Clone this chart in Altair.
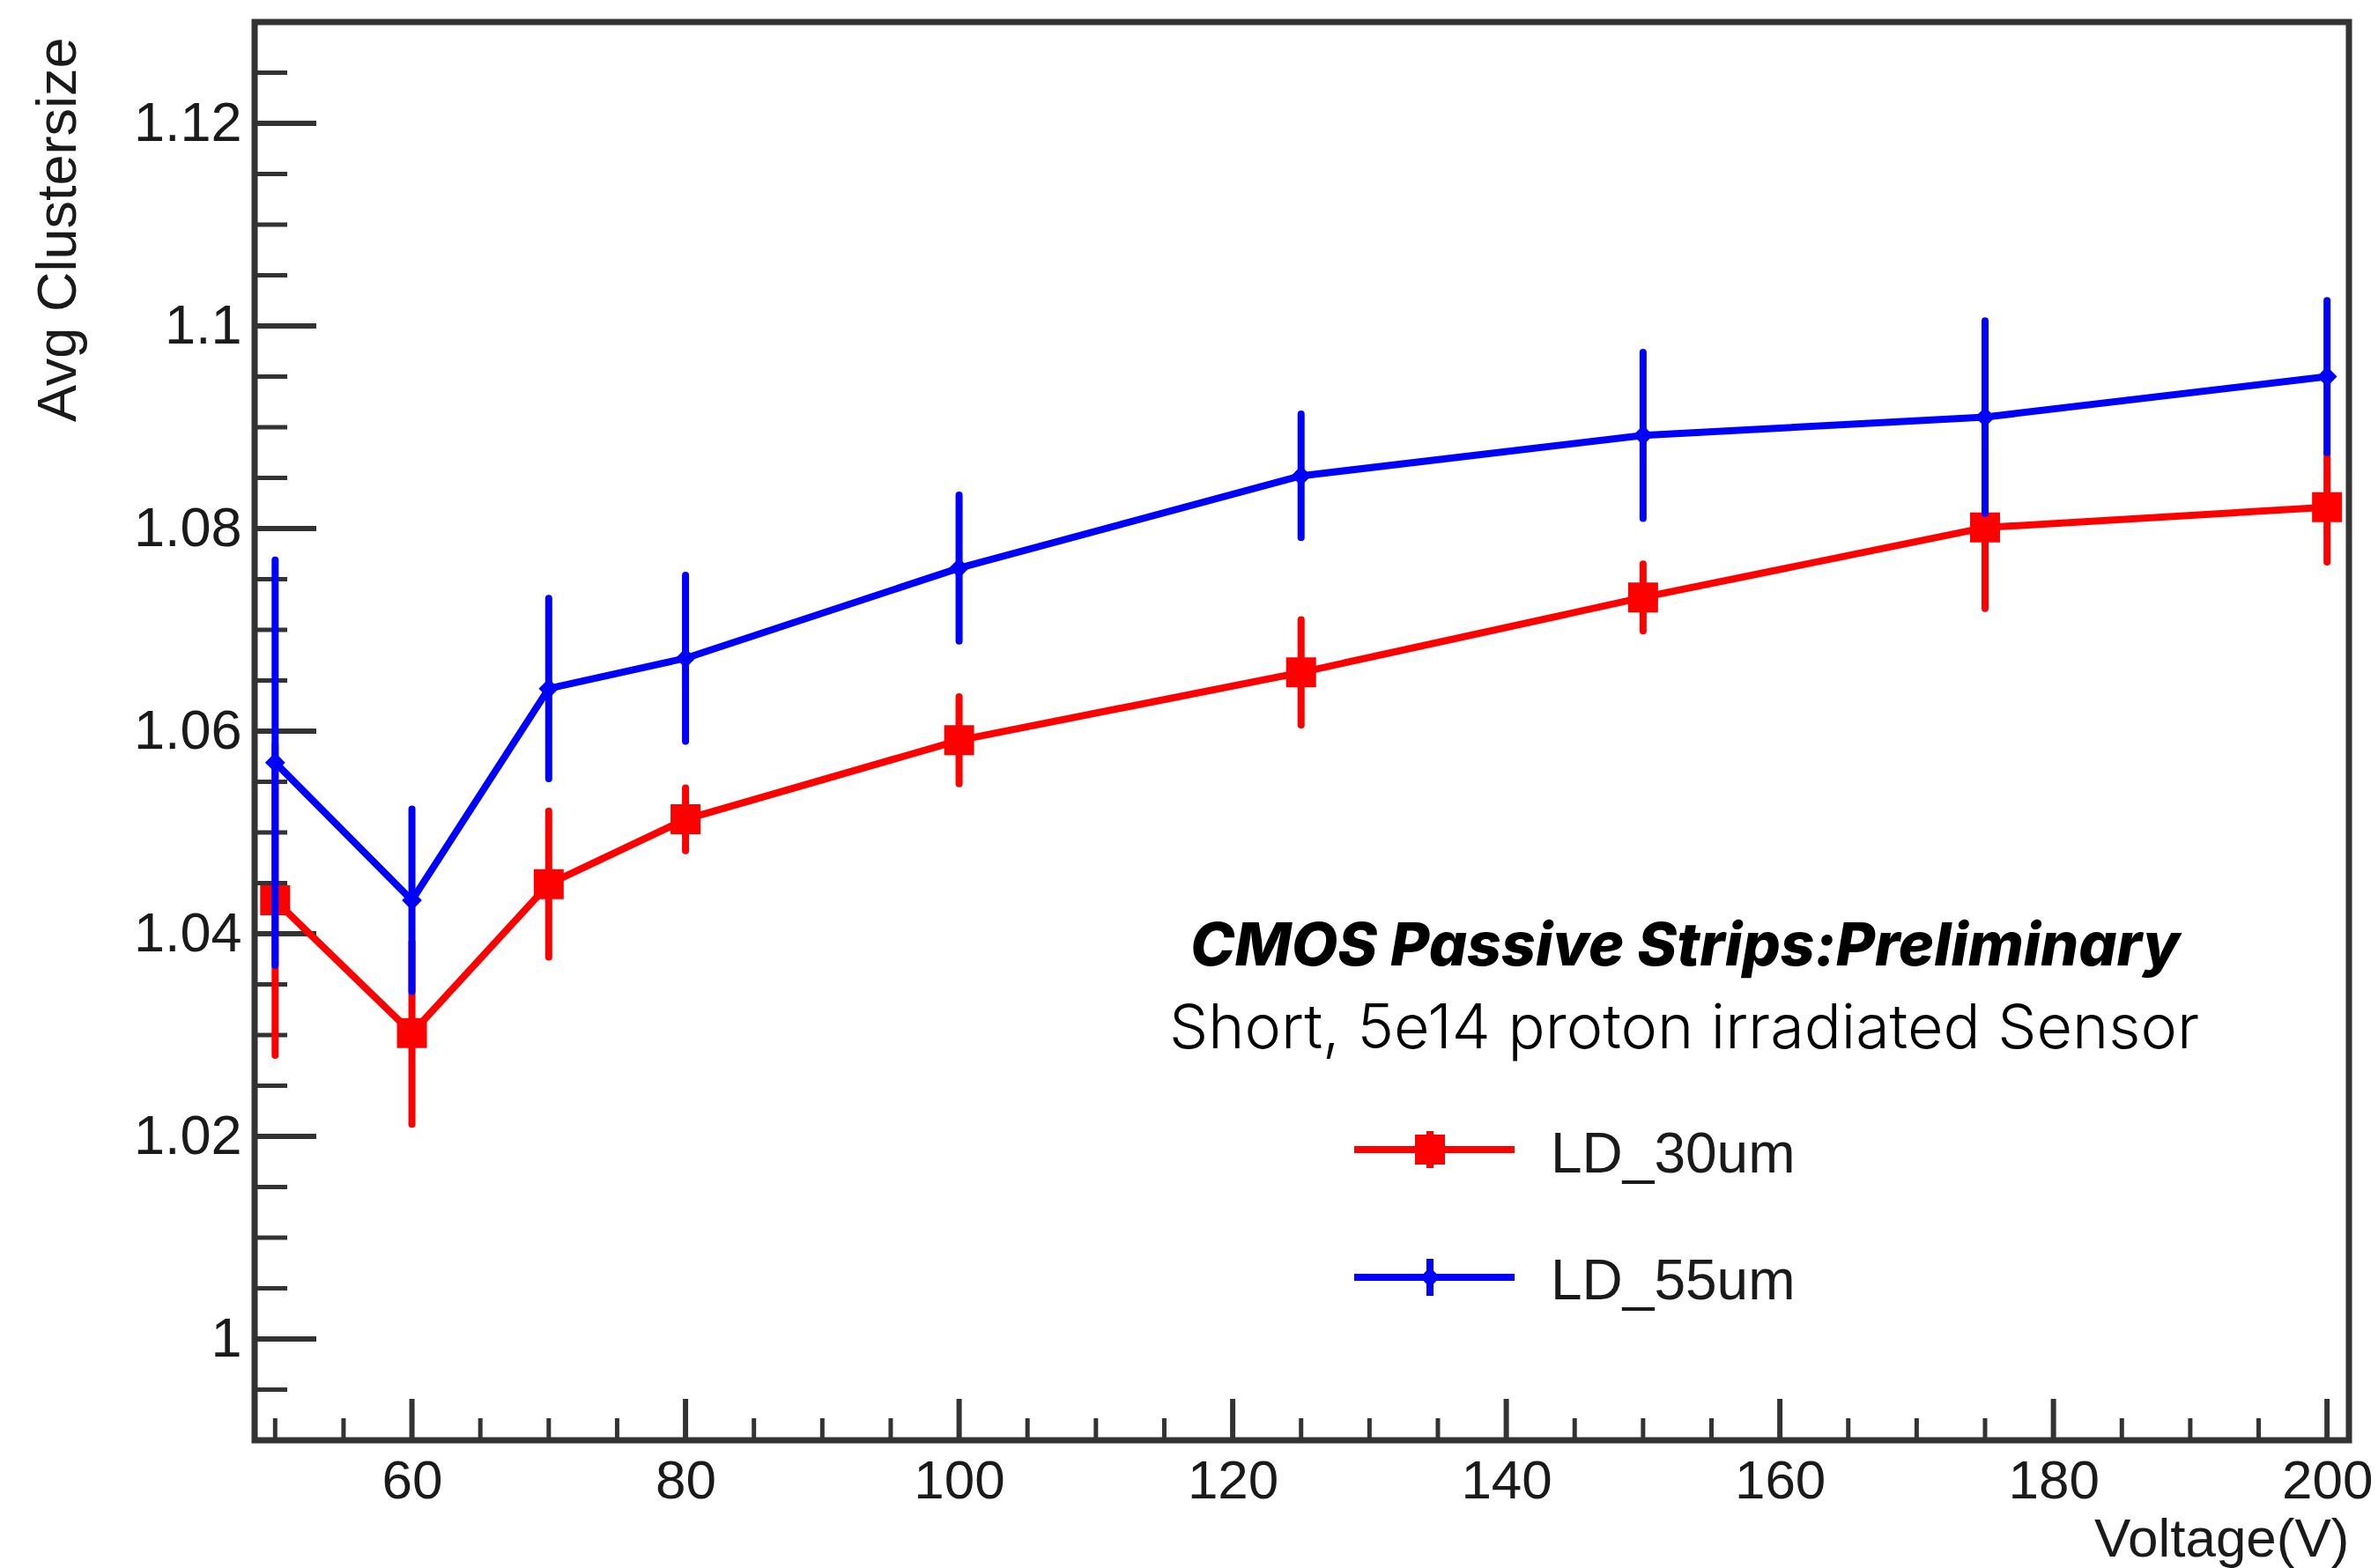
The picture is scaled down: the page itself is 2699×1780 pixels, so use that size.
import altair as alt
import pandas as pd

# ---------------- data ----------------
voltage = [50, 60, 70, 80, 100, 125, 150, 175, 200]
ld30 = [1.0433, 1.0302, 1.0449, 1.0513, 1.0591, 1.0658, 1.0732, 1.0801, 1.0821]
ld30_err = [0.0153, 0.0090, 0.0072, 0.0031, 0.0043, 0.0052, 0.0033, 0.0080, 0.0054]
ld55 = [1.0569, 1.0433, 1.0642, 1.0672, 1.0761, 1.0852, 1.0892, 1.0910, 1.0950]
ld55_err = [0.0200, 0.0090, 0.0089, 0.0082, 0.0072, 0.0061, 0.0082, 0.0095, 0.0075]

series_names = ["LD_30um", "LD_55um"]
series_colors = ["#ff0000", "#0000ff"]

x_major = [60, 80, 100, 120, 140, 160, 180, 200]
x_minor = [50, 55, 65, 70, 75, 85, 90, 95, 105, 110, 115, 125, 130, 135,
           145, 150, 155, 165, 170, 175, 185, 190, 195]
y_major = [1.0, 1.02, 1.04, 1.06, 1.08, 1.1, 1.12]
y_minor = [0.995, 1.005, 1.01, 1.015, 1.025, 1.03, 1.035, 1.045, 1.05, 1.055,
           1.065, 1.07, 1.075, 1.085, 1.09, 1.095, 1.105, 1.11, 1.115, 1.125]

title_line1 = "CMOS  Passive Strips:Preliminary"
title_line2 = "Short, 5e14 proton irradiated Sensor"
x_title = "Voltage(V)"
y_title = "Avg Clustersize"

# ---------------- layout ----------------
W, H = 2377, 1610
AX = "#333333"
LBL = "#1a1a1a"
FONT = "Liberation Sans"

xs = alt.Scale(domain=[48.5, 201.6], nice=False, zero=False)
ys = alt.Scale(domain=[0.99, 1.13], nice=False, zero=False)

x_axis = alt.Axis(values=x_major, format="d", grid=False, domain=False, ticks=False,
                  tickSize=0, labelFont=FONT, labelFontSize=62, labelColor=LBL,
                  labelPadding=16, title=x_title, titleFont=FONT, titleFontSize=62,
                  titleFontWeight="normal", titleColor=LBL, titleAlign="right",
                  titleAnchor="end", titleX=W, titleY=131, titleBaseline="alphabetic",
                  labelFlush=False)
y_axis = alt.Axis(values=y_major, format=".3~g", grid=False, domain=False, ticks=False,
                  tickSize=0, labelFont=FONT, labelFontSize=63, labelColor=LBL,
                  labelPadding=15, title=y_title, titleFont=FONT, titleFontSize=63,
                  titleFontWeight="normal", titleColor=LBL, titleAngle=-90,
                  titleAlign="right", titleX=-204, titleY=17,
                  titleBaseline="alphabetic", labelFlush=False)


def series_df(vals, errs):
    return pd.DataFrame({
        "voltage": voltage,
        "val": vals,
        "lo": [v - e for v, e in zip(vals, errs)],
        "hi": [v + e for v, e in zip(vals, errs)],
    })


def series_layers(df, color, marker):
    base = alt.Chart(df)
    line = base.mark_line(color=color, strokeWidth=8, strokeJoin="round").encode(
        x=alt.X("voltage:Q", scale=xs, axis=x_axis),
        y=alt.Y("val:Q", scale=ys, axis=y_axis),
    )
    err = base.mark_rule(color=color, strokeWidth=8, strokeCap="round").encode(
        x=alt.X("voltage:Q", scale=xs, axis=x_axis),
        y=alt.Y("lo:Q", scale=ys, axis=y_axis),
        y2="hi:Q",
    )
    if marker == "square":
        pts = base.mark_square(color=color, size=1156, opacity=1).encode(
            x=alt.X("voltage:Q", scale=xs, axis=x_axis),
            y=alt.Y("val:Q", scale=ys, axis=y_axis),
        )
    else:
        pts = base.mark_point(shape="diamond", filled=True, color=color, size=520,
                              opacity=1).encode(
            x=alt.X("voltage:Q", scale=xs, axis=x_axis),
            y=alt.Y("val:Q", scale=ys, axis=y_axis),
        )
    return [line, err, pts]


red_df = series_df(ld30, ld30_err)
blue_df = series_df(ld55, ld55_err)

# inward ticks (ROOT style)
ymaj = alt.Chart(pd.DataFrame({"t": y_major})).mark_rule(color=AX, strokeWidth=6).encode(
    y=alt.Y("t:Q", scale=ys, axis=y_axis), x=alt.value(0), x2=alt.value(70))
ymin = alt.Chart(pd.DataFrame({"t": y_minor})).mark_rule(color=AX, strokeWidth=5).encode(
    y=alt.Y("t:Q", scale=ys, axis=y_axis), x=alt.value(0), x2=alt.value(37))
xmaj = alt.Chart(pd.DataFrame({"t": x_major})).mark_rule(color=AX, strokeWidth=6).encode(
    x=alt.X("t:Q", scale=xs, axis=x_axis), y=alt.value(H), y2=alt.value(H - 47))
xmin = alt.Chart(pd.DataFrame({"t": x_minor})).mark_rule(color=AX, strokeWidth=5).encode(
    x=alt.X("t:Q", scale=xs, axis=x_axis), y=alt.value(H), y2=alt.value(H - 25))

# annotation text
t1 = alt.Chart(pd.DataFrame({"t": [title_line1]})).mark_text(
    font="Inter", fontSize=68, fontWeight=800, fontStyle="italic", align="left",
    baseline="alphabetic", color="#000000").encode(
    text="t:N", x=alt.value(1062), y=alt.value(1071))
t2 = alt.Chart(pd.DataFrame({"t": [title_line2]})).mark_text(
    font="Inter", fontSize=70, fontWeight=300, align="left",
    baseline="alphabetic", color="#000000").encode(
    text="t:N", x=alt.value(1038), y=alt.value(1165))

# legend (drawn by hand, ROOT style)
leg_layers = []
leg_rows = [(1280, 1306), (1425, 1450)]
for i, (name, color) in enumerate(zip(series_names, series_colors)):
    cy, by = leg_rows[i]
    d = pd.DataFrame({"name": [name]})
    leg_layers.append(alt.Chart(d).mark_rule(color=color, strokeWidth=8).encode(
        x=alt.value(1248), x2=alt.value(1430), y=alt.value(cy)))
    leg_layers.append(alt.Chart(d).mark_rule(color=color, strokeWidth=8).encode(
        x=alt.value(1334), y=alt.value(cy - 21), y2=alt.value(cy + 21)))
    if i == 0:
        leg_layers.append(alt.Chart(d).mark_square(color=color, size=1156, opacity=1).encode(
            x=alt.value(1334), y=alt.value(cy)))
    else:
        leg_layers.append(alt.Chart(d).mark_point(shape="diamond", filled=True, color=color,
                                                  size=520, opacity=1).encode(
            x=alt.value(1334), y=alt.value(cy)))
    leg_layers.append(alt.Chart(d).mark_text(
        font=FONT, fontSize=64, align="left", baseline="alphabetic", color=LBL).encode(
        text="name:N", x=alt.value(1471), y=alt.value(by)))

layers = [ymaj, ymin, xmaj, xmin]
layers += series_layers(red_df, series_colors[0], "square")
layers += series_layers(blue_df, series_colors[1], "diamond")
layers += [t1, t2] + leg_layers

chart = alt.layer(*layers).properties(
    width=W, height=H,
    padding={"left": 289, "top": 25, "right": 33, "bottom": 145},
    autosize=alt.AutoSizeParams(type="none"),
    background="white",
).configure_view(stroke=AX, strokeWidth=7)

chart.save("out.html", embed_options={"renderer": "svg", "actions": False})
